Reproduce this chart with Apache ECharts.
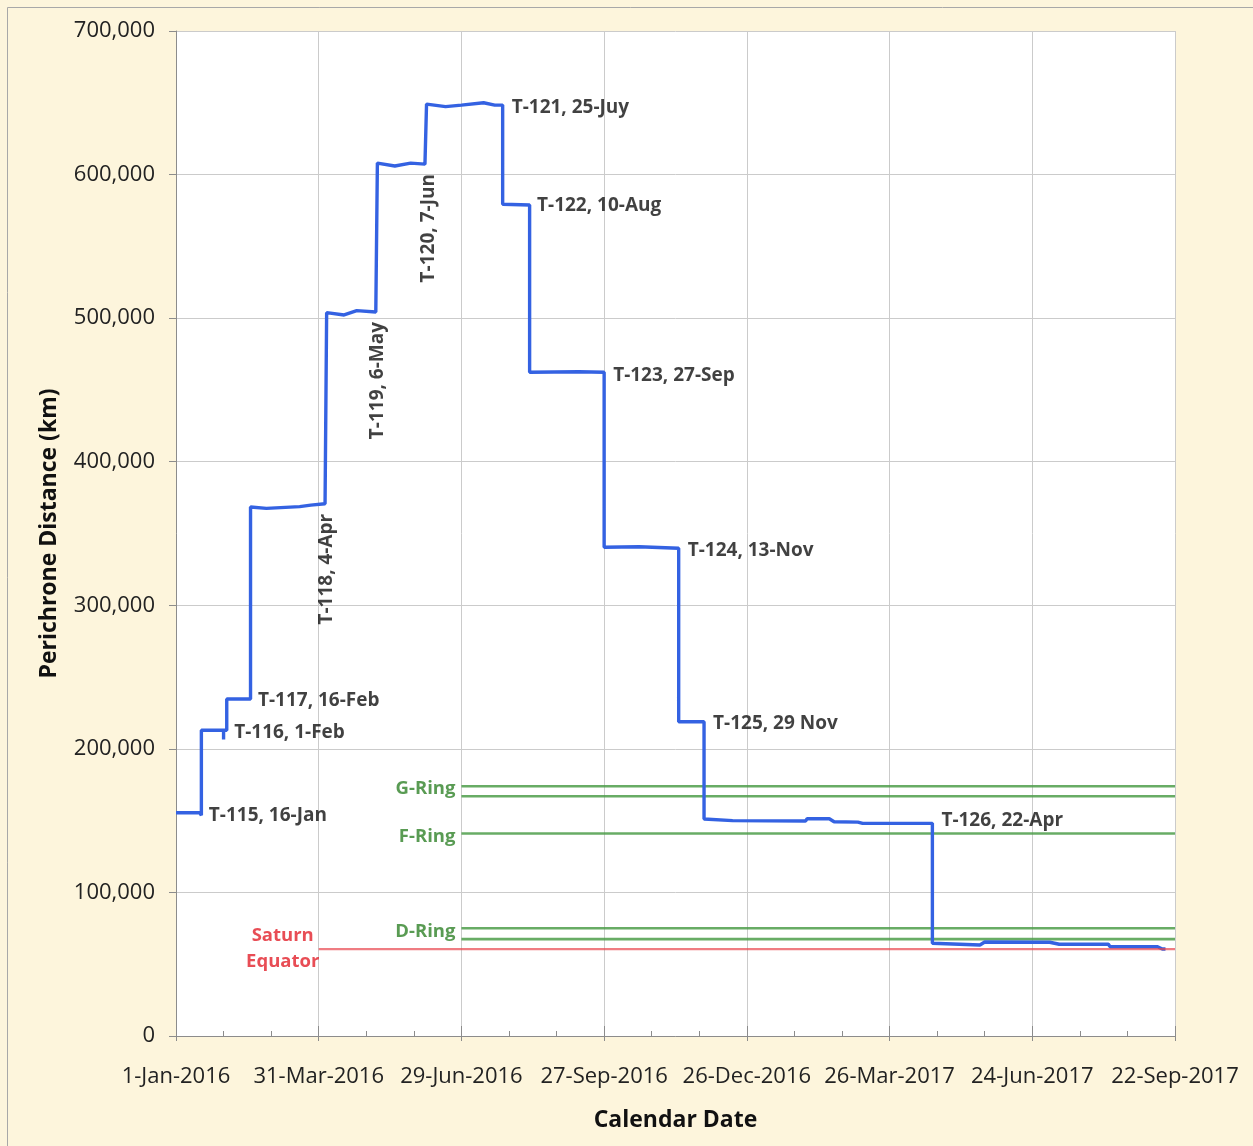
<!DOCTYPE html>
<html>
<head>
<meta charset="utf-8">
<script src="https://cdn.jsdelivr.net/npm/echarts@6/dist/echarts.min.js"></script>
<style>
  html, body { margin: 0; padding: 0; background: #fdf5dc; }
  #chart { width: 1253px; height: 1146px; }
</style>
</head>
<body>
<div id="chart"></div>
<script>
// ---------------- DATA ----------------
// Axis tick labels (x every 90 days from 1-Jan-2016)
const xTickLabels = ['1-Jan-2016', '31-Mar-2016', '29-Jun-2016', '27-Sep-2016',
                     '26-Dec-2016', '26-Mar-2017', '24-Jun-2017', '22-Sep-2017'];
const yTickValues = [0, 100000, 200000, 300000, 400000, 500000, 600000, 700000];

// Cassini perichrone distance trajectory (date, km)
const trajDates = [
  '2016-01-01', '2016-01-16', '2016-01-17', '2016-01-17',
  '2016-01-31', '2016-01-31', '2016-01-31', '2016-02-02', '2016-02-02',
  '2016-02-17', '2016-02-17', '2016-02-27', '2016-03-19', '2016-03-26', '2016-04-04',
  '2016-04-05', '2016-04-05', '2016-04-16', '2016-04-24', '2016-05-06',
  '2016-05-07', '2016-05-07', '2016-05-18', '2016-05-28', '2016-06-06',
  '2016-06-07', '2016-06-07', '2016-06-19', '2016-06-29', '2016-07-13', '2016-07-20',
  '2016-07-25', '2016-07-25', '2016-08-11', '2016-08-11',
  '2016-09-11', '2016-09-27', '2016-09-27',
  '2016-10-19', '2016-11-13', '2016-11-13',
  '2016-11-29', '2016-11-29',
  '2016-12-17', '2017-02-01', '2017-02-02', '2017-02-16', '2017-02-19',
  '2017-03-06', '2017-03-09', '2017-04-22', '2017-04-22',
  '2017-05-22', '2017-05-25', '2017-07-05', '2017-07-11', '2017-08-11',
  '2017-08-12', '2017-09-11', '2017-09-14', '2017-09-16'
];
const trajKm = [
  155500, 155500, 153700, 213000,
  213000, 206600, 213000, 213000, 234700,
  234700, 368500, 367500, 368700, 369800, 370700,
  370700, 503800, 502200, 505200, 504300,
  504300, 608000, 606000, 608000, 607300,
  607300, 649100, 647300, 648400, 650000, 648400,
  648400, 579300, 578800, 462300,
  462700, 462300, 340400,
  340800, 339700, 218900,
  218900, 151100,
  150000, 149700, 151300, 151300, 149200,
  149000, 148100, 148100, 64600,
  63400, 65500, 65300, 63900, 63900,
  62200, 62200, 60600, 60600
];

// Titan flyby annotations
const flybyNames = ['T-115, 16-Jan', 'T-116, 1-Feb', 'T-117, 16-Feb', 'T-118, 4-Apr',
  'T-119, 6-May', 'T-120, 7-Jun', 'T-121, 25-Juy', 'T-122, 10-Aug',
  'T-123, 27-Sep', 'T-124, 13-Nov', 'T-125, 29 Nov', 'T-126, 22-Apr'];
const flybyDates = ['2016-01-16', '2016-02-01', '2016-02-16', '2016-04-04',
  '2016-05-06', '2016-06-07', '2016-07-25', '2016-08-10',
  '2016-09-27', '2016-11-13', '2016-11-29', '2017-04-22'];
const flybyKm = [155500, 213000, 234700, 370700,
  504300, 607300, 648400, 578800,
  462300, 339700, 218900, 148100];
const flybyVertical = [false, false, false, true, true, true,
  false, false, false, false, false, false];

// Ring / equator reference lines
const ringNames = ['G-Ring', 'F-Ring', 'D-Ring'];
const ringLabelKm = [174000, 141000, 75000];
const ringLineKm = [174000, 167000, 141000, 75000, 67500];
const ringStartDate = '2016-06-29';
const equatorLabel = 'Saturn\nEquator';
const equatorKm = 60500;
const equatorStartDate = '2016-03-31';

const startDate = '2016-01-01';
const endDate = '2017-09-22';

// ---------------- STYLE ----------------
const FONT = 'Open Sans';
const BLUE = '#3462e2';
const GREEN = '#4e9e4a';
const RED = '#e8454d';
// small vertical nudges (px) for individual flyby labels
const flybyLabelDy = [3, 2, 2, 0, 0, 0, 3, 1, 3, 2, 2, -3];

// ---------------- HELPERS ----------------
const MS_DAY = 86400000;
const T0 = Date.parse(startDate + 'T00:00:00Z');
function dayOf(s) { return (Date.parse(s + 'T00:00:00Z') - T0) / MS_DAY; }
const MONTHS = ['Jan','Feb','Mar','Apr','May','Jun','Jul','Aug','Sep','Oct','Nov','Dec'];
function dayLabel(d) {
  const dt = new Date(T0 + Math.round(d) * MS_DAY);
  return dt.getUTCDate() + '-' + MONTHS[dt.getUTCMonth()] + '-' + dt.getUTCFullYear();
}
const xMax = dayOf(endDate);

const trajData = trajDates.map((d, i) => [dayOf(d), trajKm[i]]);

const ringSeries = ringLineKm.map(v => ({
  type: 'line', silent: true, showSymbol: false, z: 3,
  data: [[dayOf(ringStartDate), v], [xMax, v]],
  lineStyle: { color: GREEN, width: 2.6, opacity: 0.85 }
}));

const flybyLabelData = flybyNames.map((n, i) => ({
  value: [dayOf(flybyDates[i]), flybyKm[i]],
  name: n,
  label: flybyVertical[i]
    ? { rotate: 90, align: 'right', verticalAlign: 'middle', offset: [-10, 2] }
    : { rotate: 0, align: 'left', verticalAlign: 'middle', offset: [9, flybyLabelDy[i]] }
}));

const ringLabelData = ringNames.map((n, i) => ({
  value: [dayOf(ringStartDate), ringLabelKm[i]], name: n
}));

const option = {
  backgroundColor: '#fdf5dc',
  animation: false,
  graphic: [{
    type: 'rect', silent: true, z: -10,
    shape: { x: 7.5, y: 7.5, width: 1260, height: 1160 },
    style: { fill: 'none', stroke: '#a8a8a8', lineWidth: 1 }
  }],
  grid: {
    left: 176, right: 78, top: 31, bottom: 110,
    show: true, backgroundColor: '#ffffff', borderWidth: 0
  },
  xAxis: [{
    type: 'value', min: 0, max: xMax, interval: 90,
    name: 'Calendar Date', nameLocation: 'middle', nameGap: 73,
    nameTextStyle: { fontFamily: FONT, fontWeight: 'bold', fontSize: 23, color: '#111' },
    axisLine: { show: true, lineStyle: { color: '#8c8c8c', width: 1 } },
    axisTick: { show: true, length: 5, lineStyle: { color: '#8c8c8c' } },
    axisLabel: {
      fontFamily: FONT, fontSize: 22, color: '#222', margin: 30,
      formatter: v => xTickLabels[Math.round(v / 90)] || dayLabel(v)
    },
    splitLine: { show: true, lineStyle: { color: '#cbcbcb', width: 1 } }
  }, {
    type: 'value', min: 0, max: xMax, interval: 90, position: 'bottom',
    axisLine: { show: false },
    axisTick: { show: true, inside: true, length: 10, lineStyle: { color: '#8c8c8c' } },
    minorTick: { show: true, splitNumber: 3, length: 5, lineStyle: { color: '#8c8c8c' } },
    axisLabel: { show: false },
    splitLine: { show: false }
  }],
  yAxis: {
    type: 'value', min: 0, max: 700000, interval: 100000,
    name: 'Perichrone Distance (km)', nameLocation: 'middle', nameGap: 115,
    nameTextStyle: { fontFamily: FONT, fontWeight: 'bold', fontSize: 23, color: '#111' },
    axisLine: { show: true, lineStyle: { color: '#8c8c8c', width: 1 } },
    axisTick: { show: true, length: 7, lineStyle: { color: '#8c8c8c' } },
    axisLabel: {
      fontFamily: FONT, fontSize: 22, color: '#222', margin: 21,
      formatter: v => {
        const i = yTickValues.indexOf(v);
        return (i >= 0 ? yTickValues[i] : v).toLocaleString('en-US');
      }
    },
    splitLine: { show: true, lineStyle: { color: '#cbcbcb', width: 1 } }
  },
  series: [
    {
      type: 'line', name: 'Perichrone', silent: true, showSymbol: false, z: 4,
      data: trajData,
      lineStyle: { color: BLUE, width: 3.4 }
    },
    ...ringSeries,
    {
      type: 'line', silent: true, showSymbol: false, z: 5,
      data: [[dayOf(equatorStartDate), equatorKm], [xMax, equatorKm]],
      lineStyle: { color: RED, width: 2.2, opacity: 0.7 }
    },
    {
      type: 'scatter', silent: true, symbolSize: 0, z: 6,
      data: flybyLabelData,
      label: {
        show: true, position: 'inside', formatter: p => p.name,
        fontFamily: FONT, fontWeight: 'bold', fontSize: 19, color: '#111'
      }
    },
    {
      type: 'scatter', silent: true, symbolSize: 0, z: 6,
      data: ringLabelData,
      label: {
        show: true, position: 'inside', formatter: p => p.name,
        align: 'right', verticalAlign: 'middle', offset: [-6, 3],
        fontFamily: FONT, fontWeight: 'bold', fontSize: 18.5, color: '#2f8228'
      }
    },
    {
      type: 'scatter', silent: true, symbolSize: 0, z: 6,
      data: [{ value: [dayOf(equatorStartDate), equatorKm], name: equatorLabel }],
      label: {
        show: true, position: 'inside', formatter: p => p.name,
        align: 'center', verticalAlign: 'middle', offset: [-36, 0], lineHeight: 26,
        fontFamily: FONT, fontWeight: 'bold', fontSize: 18.5, color: '#e2202a'
      }
    }
  ]
};

const chart = echarts.init(document.getElementById('chart'), null, { renderer: 'canvas' });
chart.setOption(option);
</script>
</body>
</html>
